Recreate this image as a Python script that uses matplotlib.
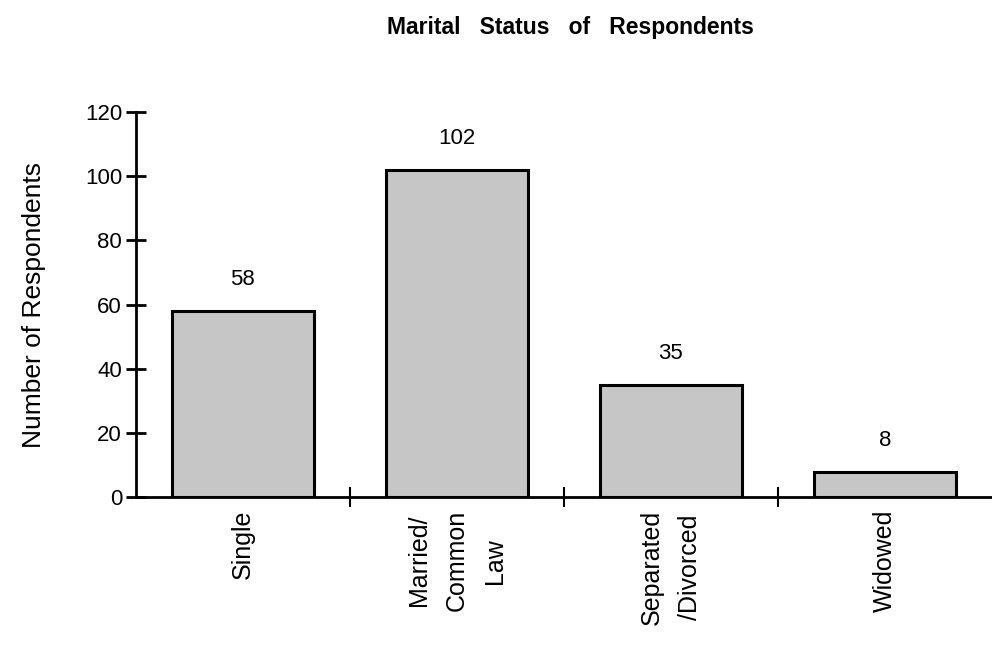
import numpy as np
import matplotlib.pyplot as plt

plt.rcParams['font.family'] = ['Liberation Sans', 'DejaVu Sans']

categories = ['Single', 'Married/\nCommon\nLaw', 'Separated\n/Divorced', 'Widowed']
counts = [58, 102, 35, 8]
yticks = [0, 20, 40, 60, 80, 100, 120]

fig = plt.figure(figsize=(9.92, 6.5), dpi=100)
ax = fig.add_axes([0.137, 0.235, 0.863, 0.593])

x = np.arange(len(categories))
ax.bar(x, counts, width=0.66, color='#c6c6c6', edgecolor='black', linewidth=2.2)

for xi, c in zip(x, counts):
    ax.text(xi, c + 6.5, str(c), ha='center', va='bottom', fontsize=16)

ax.set_xlim(-0.5, 3.5)
ax.set_ylim(0, 120)
ax.set_yticks(yticks)
ax.set_yticklabels([str(t) for t in yticks], fontsize=16)
ax.tick_params(axis='y', direction='inout', length=14, width=2, pad=3)

# category labels hang below the axis, ticks sit between categories
ax.set_xticks(x[:-1] + 0.5)
ax.set_xticklabels([])
ax.tick_params(axis='x', direction='inout', length=14, width=1.5)
for xi, lab in zip(x, categories):
    ax.text(xi, -4, lab, rotation=90, ha='center', va='top', fontsize=18,
            multialignment='center', linespacing=1.75)

for s in ['top', 'right']:
    ax.spines[s].set_visible(False)
ax.spines['left'].set_linewidth(2)
ax.spines['bottom'].set_linewidth(2)

ax.set_ylabel('Number of Respondents', fontsize=19, labelpad=28)
fig.text(0.575, 0.958, 'Marital   Status   of   Respondents', ha='center', va='center',
         fontsize=16.5, fontweight='bold')

fig.savefig('out.png', dpi=100)
